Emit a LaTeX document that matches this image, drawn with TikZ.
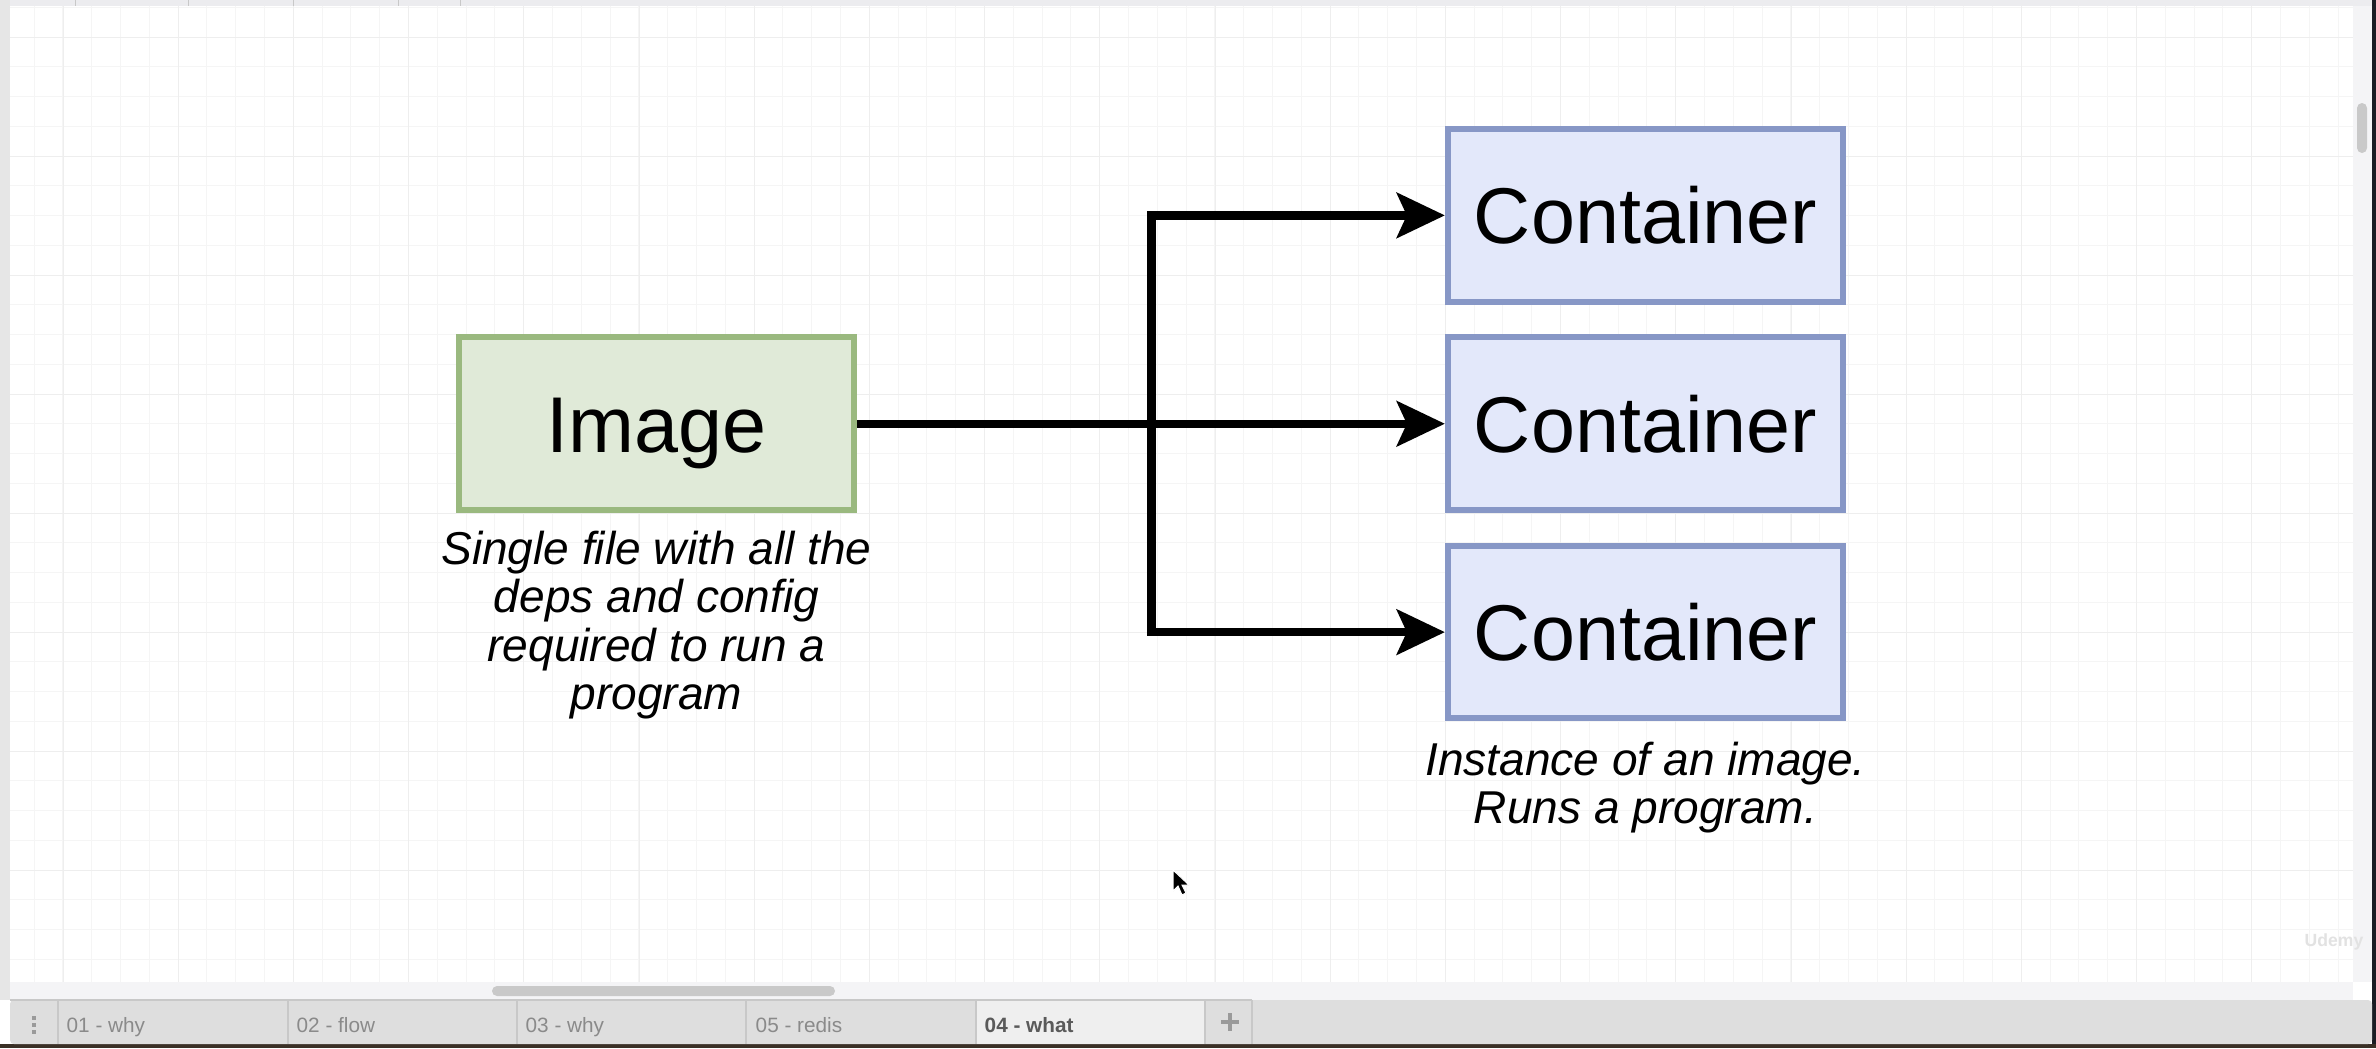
\documentclass[tikz,border=0pt]{standalone}
\usepackage{fontspec}
\setmainfont{Liberation Sans}
\usepackage{xcolor}
\usepackage{tikz}
\usetikzlibrary{shapes,arrows.meta,positioning,calc}
\definecolor{imgfill}{HTML}{E0EAD8}
\definecolor{imgline}{HTML}{9AB97F}
\definecolor{contfill}{HTML}{E3E8FA}
\definecolor{contline}{HTML}{8797C6}
\definecolor{gridminor}{HTML}{F5F5F5}
\definecolor{gridmajor}{HTML}{EEEEEE}
\definecolor{chrome}{HTML}{F4F4F6}
\definecolor{topbar}{HTML}{ECECEF}
\definecolor{sidebar}{HTML}{E6E6E6}
\definecolor{darkedge}{HTML}{1A1D24}
\definecolor{desk}{HTML}{3A3026}
\definecolor{tabbg}{HTML}{DEDEDE}
\definecolor{tabactive}{HTML}{EFEFEF}
\definecolor{tabline}{HTML}{C8C8C8}
\definecolor{tabtext}{HTML}{8A8A8A}
\definecolor{tabbold}{HTML}{5A5A5A}
\definecolor{tabicon}{HTML}{9A9A9A}
\definecolor{thumb}{HTML}{C9C9C9}
\definecolor{mark}{HTML}{E2E2E2}

\begin{document}
\begin{tikzpicture}[x=0.01cm, y=-0.01cm,
    box/.style={draw, line width=0.06cm, minimum width=3.95cm, minimum height=1.725cm,
        text height=16.1pt, text depth=0pt, font=\fontsize{22.5}{26}\selectfont},
    imagebox/.style={box, draw=imgline, fill=imgfill},
    contbox/.style={box, draw=contline, fill=contfill},
    note/.style={align=center, inner sep=0pt, font=\fontsize{13.1}{13.8}\selectfont\itshape},
    conn/.style={line width=0.085cm, -{Stealth[length=0.48cm, width=0.45cm, inset=0.1cm]}},
    tab/.style={anchor=base west, inner sep=0pt, text=tabtext, font=\fontsize{5.9}{7}\selectfont}]
\useasboundingbox (0,0) rectangle (2376,1048);
\fill[white] (0,0) rectangle (2376,1048);

% grid
\foreach \k in {0,...,80}
    \draw[gridminor, line width=0.01cm] ({34+\k*28.8},6) -- ({34+\k*28.8},982);
\foreach \k in {0,...,32}
    \draw[gridminor, line width=0.01cm] (10,{7.25+\k*29.75}) -- (2353,{7.25+\k*29.75});
\foreach \k in {0,...,19}
    \draw[gridmajor, line width=0.01cm] ({63+\k*115.2},6) -- ({63+\k*115.2},982);
\foreach \k in {0,...,7}
    \draw[gridmajor, line width=0.01cm] (10,{37+\k*119}) -- (2353,{37+\k*119});

% window chrome
\fill[topbar] (0,0) rectangle (2376,6);
\foreach \x in {75,188,293,398,460}
    \draw[tabline, line width=0.01cm] (\x,0) -- (\x,6);
\fill[sidebar] (0,0) rectangle (10,1000);
\fill[chrome] (2353,6) rectangle (2372,982);
\fill[thumb, rounded corners=0.05cm] (2357,103) rectangle (2367,153);
\fill[chrome] (10,982) rectangle (2353,1000);
\fill[thumb, rounded corners=0.05cm] (492,986) rectangle (835,996);
\fill[white] (2353,982) rectangle (2372,1000);
\fill[darkedge] (2372,0) rectangle (2376,1048);
\fill[desk] (0,1044) rectangle (2376,1048);
\fill[tabbg, rounded corners=0.04cm] (10,1000) rectangle (2372,1044);
\fill[tabactive] (976,1000) rectangle (1205,1044);
\draw[tabline, line width=0.015cm] (10,1000) -- (1252,1000);
\foreach \x in {58,288,517,746,976,1205,1252}
    \draw[tabline, line width=0.015cm] (\x,1000) -- (\x,1044);
\foreach \y in {1016,1023,1030}
    \fill[tabicon] (32,\y) rectangle (36,{\y+4});
\node[tab] (tab1) at (66,1032) {01 - why};
\node[tab] (tab2) at (296,1032) {02 - flow};
\node[tab] (tab3) at (525,1032) {03 - why};
\node[tab] (tab5) at (755,1032) {05 - redis};
\node[tab, text=tabbold, font=\fontsize{5.9}{7}\selectfont\bfseries] (tab4) at (984,1032) {04 - what};
\draw[tabicon, line width=0.04cm] (1221,1022) -- (1239,1022) (1230,1013) -- (1230,1031);
\node[anchor=east, inner sep=0pt, text=mark, font=\fontsize{5}{6}\selectfont\bfseries] (udemy) at (2364,942) {Udemy};

% diagram
\node[imagebox] (img) at (656.5,423.75) {Image};
\node[contbox] (c2) at (1645.5,423.75) {Container};
\node[contbox, above=0.2975cm of c2] (c1) {Container};
\node[contbox, below=0.2975cm of c2] (c3) {Container};
\node[note, below=0.17cm of img] (imgnote) {Single file with all the\\deps and config\\required to run a\\program};
\node[note, below=0.195cm of c3] (contnote) {Instance of an image.\\Runs a program.};

\coordinate (split) at (1151.5,423.75);
\draw[conn] (img.east) -- (c2.west);
\draw[conn] (img.east) -- (split) |- (c1.west);
\draw[conn] (img.east) -- (split) |- (c3.west);

% pointer
\filldraw[black, draw=white, line width=0.01cm] (1173,870) -- (1173,891) -- (1178,886) -- (1182,895)
    -- (1186,893) -- (1182,885) -- (1189,885) -- cycle;
\end{tikzpicture}
\end{document}
